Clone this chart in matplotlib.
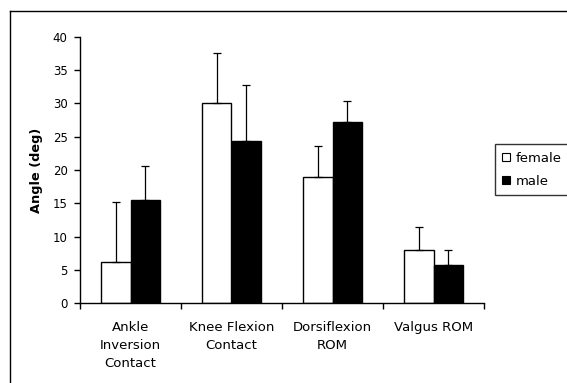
import matplotlib
matplotlib.use("Agg")
import matplotlib.pyplot as plt
import numpy as np
from matplotlib.lines import Line2D
from matplotlib.patches import Patch

categories = ["Ankle\nInversion\nContact", "Knee Flexion\nContact", "Dorsiflexion\nROM", "Valgus ROM"]
series = ["female", "male"]
female = [6.25, 30.0, 18.9, 8.0]
female_err = [8.9, 7.6, 4.7, 3.4]
male = [15.5, 24.3, 27.2, 5.7]
male_err = [5.1, 8.4, 3.1, 2.3]
yticks = [0, 5, 10, 15, 20, 25, 30, 35, 40]

plt.rcParams['font.family'] = ['DejaVu Sans']

W, H = 567, 383
fig = plt.figure(figsize=(W / 100, H / 100), dpi=100)
fig.patch.set_facecolor("white")

# outer frame (top and left edges visible)
fig.add_artist(Line2D([10 / W, 1.0], [1 - 11 / H, 1 - 11 / H], transform=fig.transFigure, color="black", lw=1))
fig.add_artist(Line2D([10 / W, 10 / W], [0, 1 - 11 / H], transform=fig.transFigure, color="black", lw=1))

ax = fig.add_axes([80 / W, 1 - 303.3 / H, 404 / W, 266.6 / H])
x = np.arange(len(categories))
bw = 0.29
ekw = dict(ecolor="black", elinewidth=0.9, capsize=2.9, capthick=0.9)
ax.bar(x - bw / 2, female, bw, color="white", edgecolor="black", linewidth=1,
       yerr=[np.zeros(len(female)), female_err], error_kw=ekw, label=series[0], zorder=2)
ax.bar(x + bw / 2, male, bw, color="black", edgecolor="black", linewidth=1,
       yerr=[np.zeros(len(male)), male_err], error_kw=ekw, label=series[1], zorder=2)

ax.set_xlim(-0.5, len(categories) - 0.5)
ax.set_ylim(0, 40)
ax.set_yticks(yticks)
ax.set_yticklabels([str(v) for v in yticks], fontsize=8.5)
ax.set_xticks(x)
ax.set_xticklabels(categories, fontsize=9.5, linespacing=1.46)
ax.set_xticks(np.arange(-0.5, len(categories), 1.0), minor=True)
ax.tick_params(axis="x", which="major", length=0, pad=13)
ax.tick_params(axis="x", which="minor", length=4, direction="out", width=1)
ax.tick_params(axis="y", length=4, direction="out", width=1, pad=5)
for s in ["top", "right"]:
    ax.spines[s].set_visible(False)
ax.spines["left"].set_linewidth(1)
ax.spines["bottom"].set_linewidth(1)
ax.set_ylabel("Angle (deg)", fontsize=9.3, fontweight="bold", labelpad=7)

handles = [Patch(facecolor="white", edgecolor="black", linewidth=0.8),
           Patch(facecolor="black", edgecolor="black", linewidth=0.8)]
leg = fig.legend(handles, series, loc="upper left",
                 bbox_to_anchor=(495 / W, 1 - 144.5 / H), fontsize=9.5,
                 frameon=True, fancybox=False, edgecolor="black",
                 handlelength=0.55, handleheight=0.55, handletextpad=0.45,
                 borderpad=0.55, labelspacing=0.75, borderaxespad=0)
leg.get_frame().set_linewidth(1)

fig.savefig("out.png", dpi=100, facecolor="white")
